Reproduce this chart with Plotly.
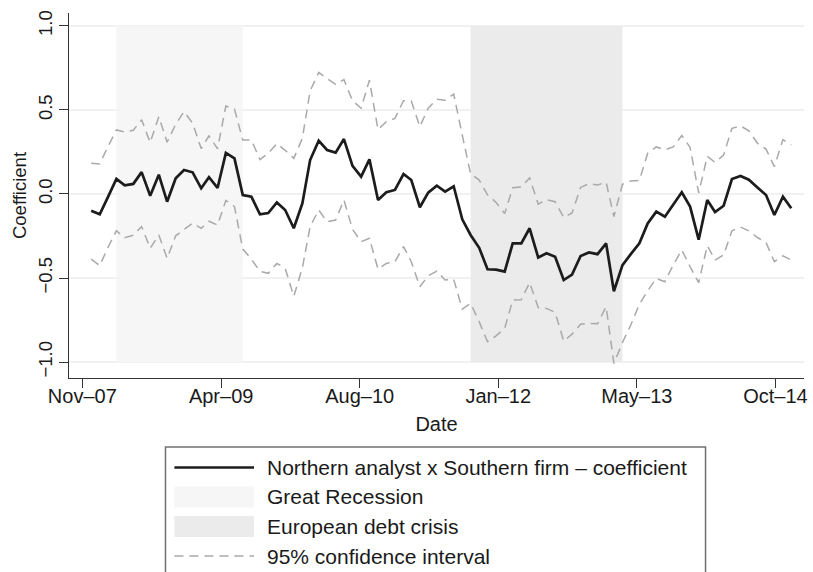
import plotly.graph_objects as go
import pandas as pd

# ---------------- data ----------------
start_month = "2008-01-01"

coef = [
    -0.100, -0.121, -0.020, 0.090, 0.052, 0.060, 0.130, -0.010, 0.115, -0.046,
    0.093, 0.143, 0.129, 0.034, 0.100, 0.036, 0.244, 0.212, -0.006, -0.016,
    -0.121, -0.113, -0.050, -0.095, -0.204, -0.056, 0.202, 0.317, 0.262, 0.246,
    0.327, 0.167, 0.103, 0.206, -0.036, 0.010, 0.024, 0.119, 0.083, -0.079,
    0.008, 0.050, 0.014, 0.046, -0.151, -0.244, -0.320, -0.448, -0.450, -0.462,
    -0.294, -0.294, -0.204, -0.378, -0.353, -0.373, -0.512, -0.480, -0.369, -0.348,
    -0.358, -0.294, -0.579, -0.423, -0.358, -0.294, -0.175, -0.105, -0.135, -0.061,
    0.010, -0.075, -0.272, -0.036, -0.107, -0.070, 0.089, 0.107, 0.085, 0.039,
    -0.006, -0.125, -0.016, -0.085,
]

upper = [
    0.183, 0.179, 0.280, 0.381, 0.369, 0.379, 0.442, 0.306, 0.460, 0.308,
    0.415, 0.490, 0.421, 0.270, 0.346, 0.269, 0.524, 0.505, 0.321, 0.321,
    0.205, 0.242, 0.300, 0.260, 0.212, 0.331, 0.614, 0.723, 0.688, 0.652,
    0.681, 0.555, 0.510, 0.677, 0.383, 0.430, 0.450, 0.555, 0.553, 0.401,
    0.510, 0.564, 0.558, 0.595, 0.350, 0.120, 0.083, -0.005, -0.050, -0.117,
    0.037, 0.042, 0.096, -0.060, -0.034, -0.046, -0.140, -0.113, 0.039, 0.061,
    0.054, 0.070, -0.135, 0.057, 0.078, 0.081, 0.242, 0.280, 0.262, 0.280,
    0.348, 0.277, 0.006, 0.224, 0.188, 0.232, 0.391, 0.405, 0.376, 0.302,
    0.267, 0.163, 0.324, 0.292,
]

lower = [
    -0.388, -0.426, -0.320, -0.219, -0.260, -0.245, -0.194, -0.323, -0.244, -0.383,
    -0.249, -0.214, -0.173, -0.204, -0.162, -0.185, -0.038, -0.075, -0.328, -0.388,
    -0.460, -0.472, -0.413, -0.442, -0.609, -0.440, -0.194, -0.095, -0.165, -0.155,
    -0.036, -0.210, -0.284, -0.264, -0.447, -0.413, -0.403, -0.313, -0.403, -0.552,
    -0.487, -0.459, -0.512, -0.508, -0.685, -0.651, -0.760, -0.879, -0.844, -0.800,
    -0.631, -0.629, -0.527, -0.676, -0.681, -0.705, -0.876, -0.834, -0.775, -0.770,
    -0.772, -0.671, -1.008, -0.884, -0.780, -0.656, -0.576, -0.502, -0.522, -0.423,
    -0.333, -0.433, -0.528, -0.307, -0.393, -0.363, -0.219, -0.197, -0.219, -0.259,
    -0.289, -0.403, -0.368, -0.393,
]

recession = ["2008-04-01", "2009-07-01"]
debt_crisis = ["2011-10-01", "2013-04-01"]

x_tick_dates = ["2007-11-30", "2009-04-14", "2010-08-27", "2012-01-09", "2013-05-23", "2014-10-05"]
x_tick_labels = ["Nov–07", "Apr–09", "Aug–10", "Jan–12", "May–13", "Oct–14"]
y_tick_values = [-1.0, -0.5, 0.0, 0.5, 1.0]
y_tick_labels = ["−1.0", "−0.5", "0.0", "0.5", "1.0"]

legend_labels = [
    "Northern analyst x Southern firm – coefficient",
    "Great Recession",
    "European debt crisis",
    "95% confidence interval",
]

dates = pd.date_range(start_month, periods=len(coef), freq="MS")

# ---------------- styles ----------------
FONT = "Liberation Sans, Arial, Helvetica, sans-serif"
TXT = "#1a1a1a"
AXIS = "#333333"
CI_COLOR = "#a9a9a9"
LINE_COLOR = "#1c1c1c"
GR_FILL = "#f6f6f6"
EU_FILL = "#ebebeb"
W, H = 813, 572
ML, MR, MT, MB = 69, 5, 13, 194
PW, PH = W - ML - MR, H - MT - MB


def px_x(px):
    return (px - ML) / PW


def px_y(py):
    return (H - MB - py) / PH


fig = go.Figure()

fig.add_trace(go.Scatter(x=dates, y=upper, mode="lines", showlegend=False,
                         line=dict(color=CI_COLOR, width=1.5, dash="9px,6px")))
fig.add_trace(go.Scatter(x=dates, y=lower, mode="lines", showlegend=False,
                         line=dict(color=CI_COLOR, width=1.5, dash="9px,6px")))
fig.add_trace(go.Scatter(x=dates, y=coef, mode="lines", showlegend=False,
                         line=dict(color=LINE_COLOR, width=2.7)))

shapes = [
    dict(type="rect", xref="x", yref="y", x0=recession[0], x1=recession[1], y0=-1, y1=1,
         fillcolor=GR_FILL, line=dict(width=0), layer="between"),
    dict(type="rect", xref="x", yref="y", x0=debt_crisis[0], x1=debt_crisis[1], y0=-1, y1=1,
         fillcolor=EU_FILL, line=dict(width=0), layer="between"),
]

# ---------------- legend (drawn as a key box below the plot) ----------------
box_l, box_r, box_t, box_b = 166, 709, 447, 600
shapes.append(dict(type="rect", xref="paper", yref="paper",
                   x0=px_x(box_l), x1=px_x(box_r), y0=px_y(box_t), y1=px_y(box_b),
                   fillcolor="white", line=dict(color="#707070", width=1.5), layer="above"))
key_l, key_r = 175, 255
item_y = [467.5, 497, 526.5, 556]
shapes.append(dict(type="line", xref="paper", yref="paper",
                   x0=px_x(key_l), x1=px_x(key_r), y0=px_y(item_y[0]), y1=px_y(item_y[0]),
                   line=dict(color=LINE_COLOR, width=2.7), layer="above"))
for yc, col in [(item_y[1], GR_FILL), (item_y[2], EU_FILL)]:
    shapes.append(dict(type="rect", xref="paper", yref="paper",
                       x0=px_x(key_l), x1=px_x(key_r), y0=px_y(yc - 10.5), y1=px_y(yc + 10.5),
                       fillcolor=col, line=dict(width=0), layer="above"))
shapes.append(dict(type="line", xref="paper", yref="paper",
                   x0=px_x(key_l), x1=px_x(key_r), y0=px_y(item_y[3]), y1=px_y(item_y[3]),
                   line=dict(color=CI_COLOR, width=1.5, dash="9px,6px"), layer="above"))

annotations = []
for yc, label in zip(item_y, legend_labels):
    annotations.append(dict(xref="paper", yref="paper", x=px_x(266), y=px_y(yc),
                            text=label, showarrow=False, xanchor="left", yanchor="middle",
                            font=dict(family=FONT, size=21, color=TXT)))

fig.update_layout(
    width=W, height=H,
    margin=dict(l=ML, r=MR, t=MT, b=MB, pad=0),
    paper_bgcolor="white", plot_bgcolor="white",
    font=dict(family=FONT, size=20, color=TXT),
    shapes=shapes, annotations=annotations,
    showlegend=False,
    xaxis=dict(
        type="date", range=["2007-10-13", "2015-01-16"],
        tickmode="array", tickvals=x_tick_dates, ticktext=x_tick_labels,
        ticks="outside", ticklen=9, tickwidth=1.3, tickcolor=AXIS,
        showline=True, linecolor=AXIS, linewidth=1.3,
        showgrid=False, zeroline=False,
        ticklabelstandoff=-9,
        tickfont=dict(family=FONT, size=20, color=TXT),
        title=dict(text="Date", font=dict(family=FONT, size=20, color=TXT), standoff=10),
    ),
    yaxis=dict(
        range=[-1.095, 1.077],
        tickmode="array", tickvals=y_tick_values, ticktext=y_tick_labels,
        tickangle=-90,
        ticks="outside", ticklen=9, tickwidth=1.3, tickcolor=AXIS,
        showline=True, linecolor=AXIS, linewidth=1.3,
        showgrid=True, gridcolor="#f1f1f1", gridwidth=1.6, zeroline=False,
        ticklabelstandoff=-1,
        tickfont=dict(family=FONT, size=18.5, color=TXT),
        title=dict(text="Coefficient", font=dict(family=FONT, size=18.5, color=TXT), standoff=3),
    ),
)

fig.write_html("out.html")
